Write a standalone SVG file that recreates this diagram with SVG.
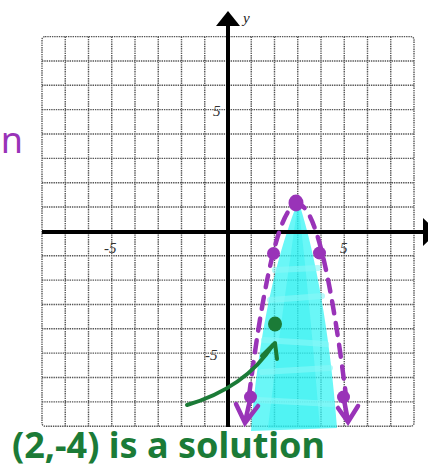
<svg xmlns="http://www.w3.org/2000/svg" width="428" height="468" viewBox="0 0 428 468">
<style>
.grid{fill:none;stroke:#555;stroke-width:1.4;stroke-dasharray:1.4 0.9}
.axis{stroke:#000;stroke-width:4;fill:none}
.lbl{font-family:"Liberation Serif",serif;font-style:italic;font-size:15px;fill:#333}
.pur{stroke:#9933b8;stroke-width:4.5;stroke-linecap:round;fill:none}
.grn{stroke:#1b7b37;stroke-width:4;stroke-linecap:round;stroke-linejoin:round;fill:none}
.hand{font-family:"Noto Sans","DejaVu Sans",sans-serif;font-size:36px;font-weight:bold}
</style>
<rect width="428" height="468" fill="#fff"/>
<g id="grid">
<rect class="grid" x="42" y="36.6" width="372" height="389.6" rx="3"/>
<path class="grid" d="M65.25 36.6V426.2M88.5 36.6V426.2M111.75 36.6V426.2M135 36.6V426.2M158.25 36.6V426.2M181.5 36.6V426.2M204.75 36.6V426.2M251.25 36.6V426.2M274.5 36.6V426.2M297.75 36.6V426.2M321 36.6V426.2M344.25 36.6V426.2M367.5 36.6V426.2M390.75 36.6V426.2M42 60.95H414M42 85.3H414M42 109.65H414M42 134H414M42 158.35H414M42 182.7H414M42 207.05H414M42 255.75H414M42 280.1H414M42 304.45H414M42 328.8H414M42 353.15H414M42 377.5H414M42 401.85H414"/>
</g>
<g id="shading">
<path d="M296 206 C284 240 262 300 251 431 L337 428 C330 330 314 250 300 206 Z" fill="#30f4f4" fill-opacity="0.72"/>
<path d="M297 210 C290 260 280 330 268 428 L320 428 C312 330 305 260 299 210 Z" fill="#1fecec" fill-opacity="0.35"/>
<g stroke="#8af8f8" stroke-width="6" stroke-linecap="round" opacity="0.6">
<path d="M270 300 L322 296"/><path d="M264 340 L326 344"/><path d="M262 372 L330 368"/><path d="M258 400 L332 404"/><path d="M275 270 L318 268"/>
</g>
</g>
<g id="axes">
<line class="axis" x1="42" y1="232" x2="424" y2="232"/>
<polygon points="423,218 423,246 438,232" fill="#000"/>
<line class="axis" x1="228" y1="24" x2="228" y2="427"/>
<polygon points="228,11 216,26 240,26" fill="#000"/>
<text x="243" y="23" style="font-family:'Liberation Serif',serif;font-style:italic;font-size:15px;fill:#222">y</text>
<text class="lbl" x="104" y="253">-5</text>
<text class="lbl" x="340" y="253">5</text>
<text class="lbl" x="213" y="116">5</text>
<text class="lbl" x="205" y="360">-5</text>
</g>
<g id="parabola">
<path class="pur" d="M249 396 Q297.9 12.35 346 396" stroke-dasharray="12 10"/>
<g fill="#9933b8">
<ellipse cx="296" cy="203" rx="7.5" ry="8.5"/>
<circle cx="273.5" cy="253.5" r="6.5"/>
<circle cx="319.5" cy="253" r="6.5"/>
<circle cx="250.5" cy="397" r="6.5"/>
<circle cx="343.5" cy="397" r="6.5"/>
</g>
<path class="pur" d="M250 400 L245 422 M236 404 L245 423 L258 406"/>
<path class="pur" d="M344 400 L348 421 M338 408 L348 422 L358 406"/>
</g>
<g id="solution-point">
<ellipse cx="275" cy="324" rx="7" ry="7.5" fill="#1b7b37"/>
<path class="grn" d="M187 405 Q245 388 273 345"/>
<path class="grn" d="M262 356 L275 343 L277 359"/>
</g>
<g id="notes">
<text class="hand" x="23" y="153" text-anchor="end" fill="#9933b8" style="font-weight:normal">n</text>
<text class="hand" x="12" y="458" fill="#1b7b37" textLength="313" lengthAdjust="spacingAndGlyphs">(2,-4) is a solution</text>
</g>
</svg>
